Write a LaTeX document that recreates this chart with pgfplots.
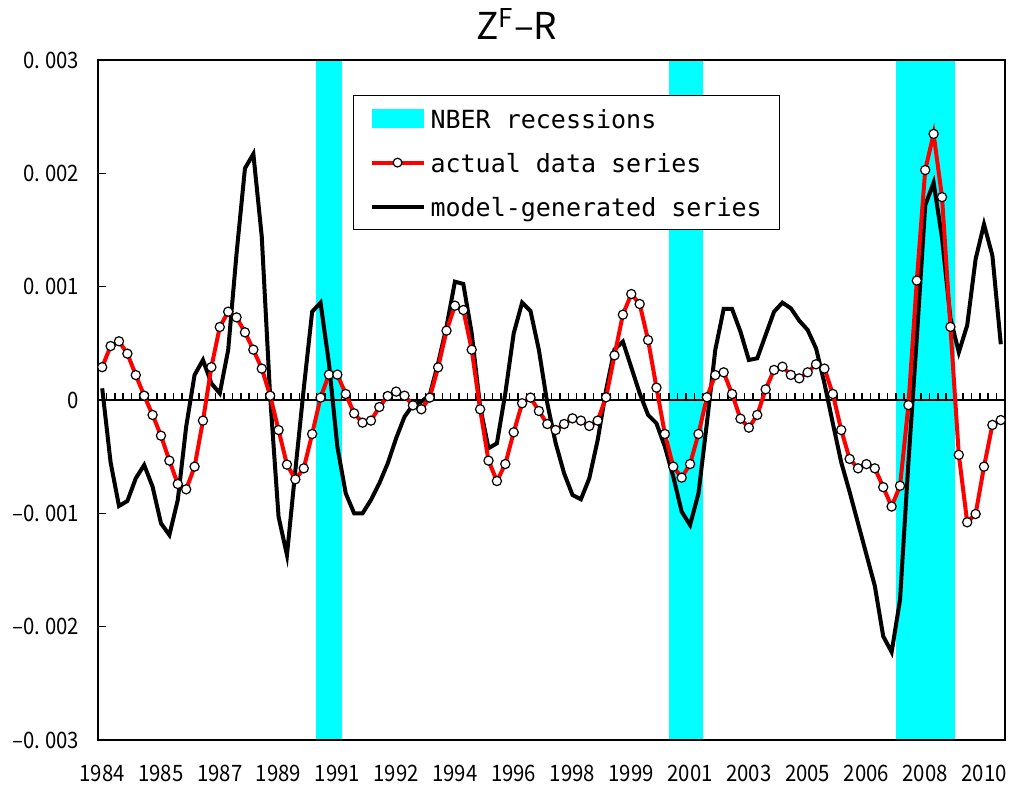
\documentclass[border=0pt]{standalone}
\usepackage{fontspec}
\setmainfont{Noto Sans CJK JP}
\newfontfamily\tickfont{Noto Sans CJK JP}[FakeStretch=0.9]
\newfontfamily\legfont{DejaVu Sans Mono}
\usepackage{pgfplots}
\usepackage{pgfplotstable}
\pgfplotsset{compat=1.18}
\definecolor{nber}{RGB}{0,255,255}

\pgfplotstableread{
q act mod
0 0.000290 0.000103
1 0.000476 -0.000550
2 0.000518 -0.000935
3 0.000409 -0.000891
4 0.000220 -0.000691
5 0.000038 -0.000574
6 -0.000132 -0.000765
7 -0.000315 -0.001088
8 -0.000535 -0.001191
9 -0.000741 -0.000882
10 -0.000788 -0.000235
11 -0.000588 0.000221
12 -0.000182 0.000353
13 0.000290 0.000147
14 0.000644 0.000059
15 0.000779 0.000441
16 0.000729 0.001294
17 0.000597 0.002044
18 0.000444 0.002171
19 0.000277 0.001441
20 0.000038 0.000029
21 -0.000265 -0.001030
22 -0.000570 -0.001368
23 -0.000700 -0.000620
24 -0.000603 0.000100
25 -0.000300 0.000779
26 0.000021 0.000859
27 0.000224 0.000324
28 0.000224 -0.000412
29 0.000053 -0.000824
30 -0.000118 -0.001000
31 -0.000200 -0.001000
32 -0.000182 -0.000882
33 -0.000062 -0.000735
34 0.000035 -0.000559
35 0.000074 -0.000338
36 0.000038 -0.000147
37 -0.000047 -0.000044
38 -0.000082 -0.000015
39 0.000021 0.000044
40 0.000288 0.000324
41 0.000612 0.000647
42 0.000832 0.001044
43 0.000794 0.001024
44 0.000444 0.000588
45 -0.000082 -0.000059
46 -0.000535 -0.000426
47 -0.000715 -0.000382
48 -0.000565 0.000059
49 -0.000285 0.000588
50 -0.000029 0.000859
51 0.000021 0.000785
52 -0.000097 0.000441
53 -0.000212 -0.000030
54 -0.000265 -0.000382
55 -0.000212 -0.000647
56 -0.000162 -0.000838
57 -0.000182 -0.000876
58 -0.000229 -0.000691
59 -0.000182 -0.000353
60 0.000024 0.000088
61 0.000394 0.000447
62 0.000753 0.000515
63 0.000935 0.000288
64 0.000847 0.000059
65 0.000529 -0.000132
66 0.000109 -0.000206
67 -0.000300 -0.000412
68 -0.000588 -0.000676
69 -0.000685 -0.000985
70 -0.000565 -0.001103
71 -0.000300 -0.000824
72 0.000024 -0.000206
73 0.000220 0.000441
74 0.000244 0.000803
75 0.000053 0.000803
76 -0.000165 0.000603
77 -0.000244 0.000353
78 -0.000132 0.000368
79 0.000094 0.000574
80 0.000265 0.000779
81 0.000294 0.000859
82 0.000221 0.000809
83 0.000191 0.000700
84 0.000244 0.000618
85 0.000315 0.000456
86 0.000277 0.000147
87 0.000053 -0.000206
88 -0.000265 -0.000550
89 -0.000520 -0.000812
90 -0.000603 -0.001088
91 -0.000566 -0.001364
92 -0.000603 -0.001641
93 -0.000769 -0.002085
94 -0.000940 -0.002224
95 -0.000757 -0.001763
96 -0.000045 -0.000550
97 0.001054 0.000550
98 0.002029 0.001718
99 0.002348 0.001918
100 0.001790 0.001430
101 0.000645 0.000722
102 -0.000484 0.000421
103 -0.001079 0.000660
104 -0.001006 0.001243
105 -0.000588 0.001550
106 -0.000220 0.001274
107 -0.000177 0.000492
}\zdata

\begin{document}
\begin{tikzpicture}
\path[use as bounding box] (-49pt,-26.5pt) rectangle (457pt,370pt);
\begin{axis}[
  at={(0pt,0pt)}, anchor=south west,
  scale only axis, width=453.5pt, height=340pt,
  xmin=-0.5, xmax=107.5, ymin=-0.003, ymax=0.003,
  xtick={0,7,...,105},
  xticklabels={1984,1985,1987,1989,1991,1992,1994,1996,1998,1999,2001,2003,2005,2006,2008,2010},
  ytick={-0.003,-0.002,-0.001,0,0.001,0.002,0.003},
  yticklabels={{–0.\hspace{2.5pt}003},{–0.\hspace{2.5pt}002},{–0.\hspace{2.5pt}001},0,{0.\hspace{2.5pt}001},{0.\hspace{2.5pt}002},{0.\hspace{2.5pt}003}},
  scaled y ticks=false,
  x tick style={draw=none},
  ytick pos=left, tick align=inside, major tick length=4pt,
  y tick style={line width=0.8pt, black},
  axis line style={line width=1pt},
  axis on top,
  ticklabel style={font=\tickfont\fontsize{11.3}{13}\selectfont},
  xticklabel style={yshift=-9pt},
  yticklabel style={xshift=-6pt},
  legend cell align=left,
  legend style={at={(0.2811,0.9485)}, anchor=north west, draw=black, line width=0.6pt, fill=white,
    font=\legfont\fontsize{12.5}{15}\selectfont, inner xsep=8pt, inner ysep=4.5pt, row sep=8pt,
    nodes={inner sep=1pt, text height=11pt, text depth=1pt},
    /tikz/every odd column/.append style={column sep=1.5pt}},
]
\addplot[draw=none, fill=nber, legend image code/.code={\fill[nber] (0pt,-4.75pt) rectangle (26pt,4.75pt);}]
  coordinates {(25.5,-0.003) (25.5,0.003) (28.5,0.003) (28.5,-0.003)};
\addlegendentry{NBER recessions}
\addplot[draw=none, fill=nber, forget plot]
  coordinates {(67.5,-0.003) (67.5,0.003) (71.5,0.003) (71.5,-0.003)};
\addplot[draw=none, fill=nber, forget plot]
  coordinates {(94.5,-0.003) (94.5,0.003) (101.5,0.003) (101.5,-0.003)};
\draw[line width=1pt] (axis cs:-0.5,0) -- (axis cs:107.5,0);
\pgfplotsinvokeforeach{0.5,1.5,...,106.5}{\draw[line width=0.75pt] (axis cs:#1,0) -- ++(0pt,3.4pt);}
\addplot[black, line width=2pt, forget plot] table[x=q, y=mod] {\zdata};
\addplot[red, line width=2pt, mark=*, mark size=2.3pt, mark options={fill=white, draw=black, line width=0.6pt},
  legend image code/.code={\draw[red, line width=2pt] (0pt,0pt) -- (26pt,0pt); \draw[black, fill=white, line width=0.6pt] (13pt,0pt) circle (2.2pt);}]
  table[x=q, y=act] {\zdata};
\addlegendentry{actual data series}
\addlegendimage{legend image code/.code={\draw[black, line width=2pt] (0pt,0pt) -- (26pt,0pt);}}
\addlegendentry{model-generated series}
\end{axis}
\node[anchor=base, font=\fontsize{18.5}{22}\selectfont] at (209.5pt,350pt) {Z\textsuperscript{F}–R};
\end{tikzpicture}
\end{document}
